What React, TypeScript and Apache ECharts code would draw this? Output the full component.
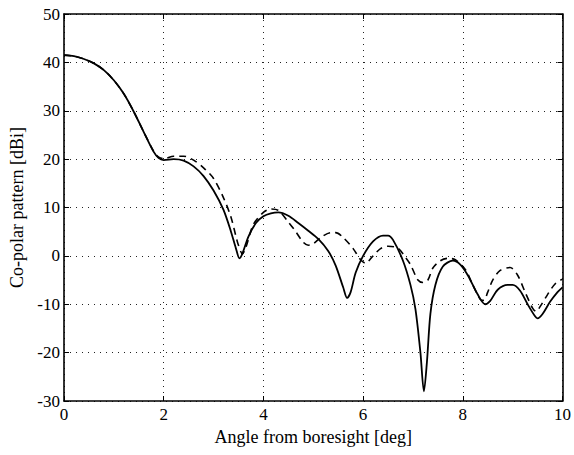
import React, { useEffect, useRef } from "react";
import * as echarts from "echarts";

const solidAngles = [0.0, 0.2, 0.4, 0.6, 0.8, 1.0, 1.2, 1.4, 1.6, 1.8, 1.9, 2.0, 2.2, 2.4, 2.6, 2.8, 3.0, 3.2, 3.35, 3.45, 3.52, 3.58, 3.7, 3.85, 4.0, 4.15, 4.3, 4.5, 4.7, 4.9, 5.1, 5.3, 5.45, 5.6, 5.68, 5.75, 5.85, 6.0, 6.2, 6.4, 6.5, 6.6, 6.8, 6.95, 7.05, 7.15, 7.22, 7.28, 7.35, 7.45, 7.6, 7.8, 7.95, 8.1, 8.3, 8.45, 8.55, 8.7, 8.9, 9.0, 9.15, 9.3, 9.45, 9.5, 9.6, 9.75, 9.9, 10.0];
const solidValues = [41.5, 41.3, 40.7, 39.8, 38.4, 36.3, 33.5, 29.8, 25.6, 21.5, 20.2, 19.8, 20.0, 19.7, 18.5, 16.5, 13.5, 9.5, 5, 1.5, -0.5, 0.5, 4, 6.8, 8.2, 8.8, 9.0, 8.3, 6.8, 5.2, 3.5, 1, -2, -6.5, -8.7, -7.5, -3.5, 0, 3, 4.2, 4.2, 3.3, -1, -6, -11, -20, -28, -22, -12, -6, -2.2, -1.0, -1.8, -4, -8, -10, -9.3, -7, -6.0, -6.0, -7.2, -10, -12.5, -12.9, -12, -9.5, -7.5, -6.5];

const dashedAngles = [0.0, 0.2, 0.4, 0.6, 0.8, 1.0, 1.2, 1.4, 1.6, 1.8, 1.9, 2.0, 2.2, 2.4, 2.6, 2.8, 3.0, 3.2, 3.35, 3.45, 3.5, 3.58, 3.65, 3.8, 4.0, 4.15, 4.3, 4.5, 4.65, 4.8, 4.9, 5.0, 5.15, 5.35, 5.45, 5.6, 5.8, 5.95, 6.05, 6.2, 6.35, 6.5, 6.7, 6.85, 6.95, 7.1, 7.2, 7.3, 7.4, 7.55, 7.7, 7.85, 8.05, 8.2, 8.35, 8.42, 8.5, 8.6, 8.75, 8.95, 9.1, 9.25, 9.4, 9.47, 9.55, 9.7, 9.85, 10.0];
const dashedValues = [41.5, 41.3, 40.7, 39.8, 38.4, 36.3, 33.5, 29.8, 25.6, 21.6, 20.4, 20.1, 20.6, 20.6, 19.8, 18.2, 16.0, 12.0, 8, 4, 2.2, 0.4, 1.8, 6.5, 9.0, 9.7, 9.4, 7.0, 5.0, 2.8, 2.2, 2.5, 3.8, 4.8, 4.8, 3.8, 1.5, -0.8, -1.5, 0, 1.5, 2.0, 1.6, -0.3, -1.8, -5, -5.5, -5, -2.5, -1, -0.5, -0.8, -2.8, -6, -9, -9.2, -7.5, -5, -3, -2.4, -4, -7.5, -10.8, -11.5, -10.5, -8, -5.8, -4.8];

const xTicks = { min: 0, max: 10, interval: 2 };
const yTicks = { min: -30, max: 50, interval: 10 };

const FONT = "Liberation Serif";

export default function App() {
  const ref = useRef<HTMLDivElement>(null);
  useEffect(() => {
    if (!ref.current) return;
    const chart = echarts.init(ref.current, null, { renderer: "svg" });
    const splitLine = { show: true, lineStyle: { color: "#222", type: [1, 5], width: 1 } };
    const axisLine = { show: true, onZero: false, lineStyle: { color: "#000", width: 1.6 } };
    const axisTick = { show: true, inside: true, length: 5, lineStyle: { color: "#000" } };
    const tickStyle = { color: "#000", fontFamily: FONT, fontSize: 17 };
    const nameStyle = { color: "#000", fontFamily: FONT, fontSize: 18 };
    chart.setOption({
      animation: false,
      backgroundColor: "#fff",
      grid: { left: 64, right: 11, top: 14, bottom: 54, show: false },
      xAxis: [
        {
          type: "value",
          ...xTicks,
          name: "Angle from boresight [deg]",
          nameLocation: "middle",
          nameGap: 23,
          nameTextStyle: nameStyle,
          axisLine,
          axisTick,
          axisLabel: { ...tickStyle, margin: 5 },
          splitLine,
        },
        {
          type: "value",
          ...xTicks,
          position: "top",
          axisLine,
          axisTick,
          axisLabel: { show: false },
          splitLine: { show: false },
        },
      ],
      yAxis: [
        {
          type: "value",
          ...yTicks,
          name: "Co-polar pattern [dBi]",
          nameLocation: "middle",
          nameGap: 37,
          nameTextStyle: nameStyle,
          axisLine,
          axisTick,
          axisLabel: { ...tickStyle, margin: 4 },
          splitLine,
        },
        {
          type: "value",
          ...yTicks,
          position: "right",
          axisLine,
          axisTick,
          axisLabel: { show: false },
          splitLine: { show: false },
        },
      ],
      series: [
        {
          type: "line",
          data: dashedAngles.map((a, i) => [a, dashedValues[i]]),
          showSymbol: false,
          smooth: 0.3,
          lineStyle: { color: "#000", width: 1.6, type: [7, 5] },
        },
        {
          type: "line",
          data: solidAngles.map((a, i) => [a, solidValues[i]]),
          showSymbol: false,
          smooth: 0.3,
          lineStyle: { color: "#000", width: 1.8 },
        },
      ],
    });
    return () => chart.dispose();
  }, []);
  return <div ref={ref} style={{ position: "fixed", left: 0, top: 0, width: 574, height: 455 }} />;
}
